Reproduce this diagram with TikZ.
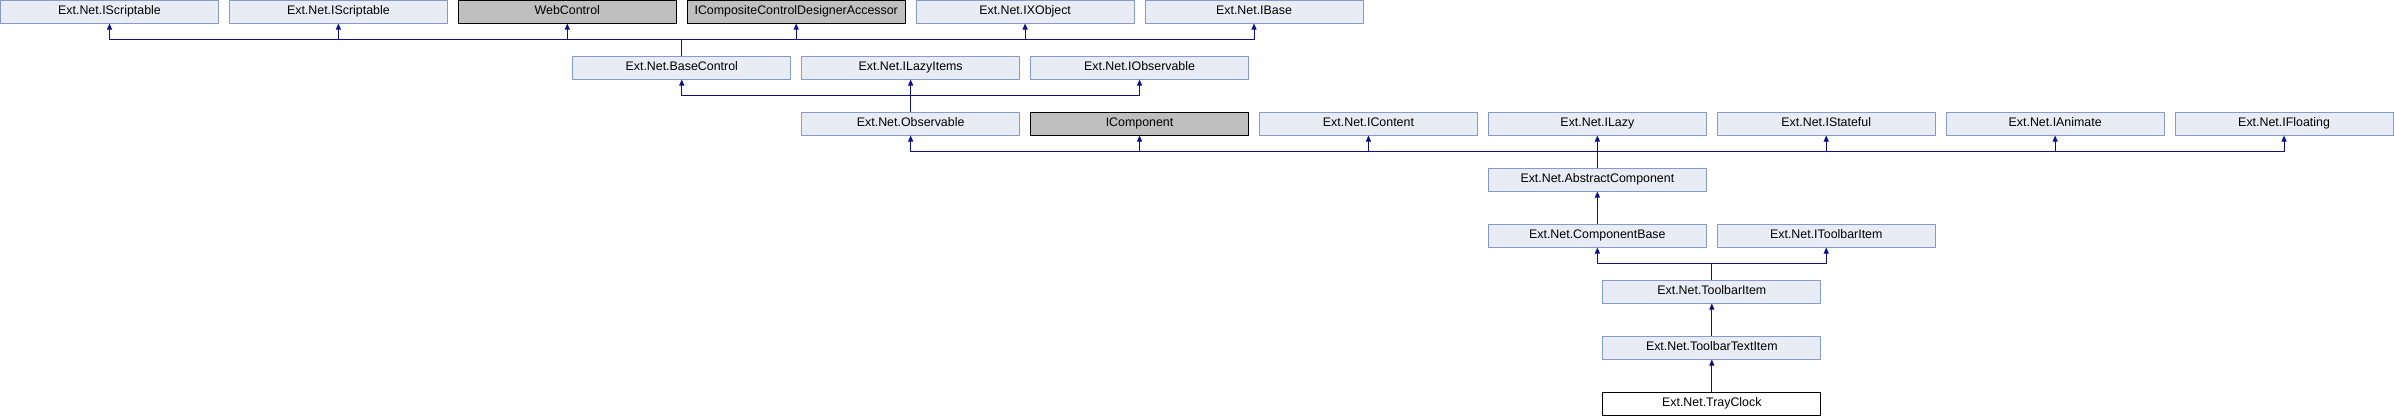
\documentclass[tikz,border=0pt]{standalone}
\usepackage{fontspec}
\setmainfont{Liberation Sans}
\usetikzlibrary{arrows.meta}
\usetikzlibrary{positioning}

\definecolor{boxfill}{RGB}{232,236,244}
\definecolor{boxline}{RGB}{132,155,204}
\definecolor{extfill}{RGB}{191,191,191}
\definecolor{edgeblue}{RGB}{16,16,140}

\tikzset{
  klass/.style={rectangle,draw=boxline,fill=boxfill,line width=1pt,minimum width=218pt,minimum height=23pt,inner sep=0pt,text height=9pt,text depth=2.6pt,font=\fontsize{12.4}{14}\selectfont},
  extklass/.style={klass,draw=black,fill=extfill},
  curklass/.style={klass,draw=black,fill=white},
  inherit/.style={draw=edgeblue,line width=1pt,-{Triangle[length=6pt,width=5pt]}}
}

\begin{document}
\begin{tikzpicture}[x=1pt,y=-1pt]
\useasboundingbox (0,0) rectangle (2394,416);

% row 0
\node[klass]    (scr1)   at (109.5,11.5)  {Ext.Net.IScriptable};
\node[klass]    (scr2)   at (338.4,11.5)  {Ext.Net.IScriptable};
\node[extklass] (webctl) at (567.3,11.5)  {WebControl};
\node[extklass] (icdda)  at (796.2,11.5)  {ICompositeControlDesignerAccessor};
\node[klass]    (ixobj)  at (1025.1,11.5) {Ext.Net.IXObject};
\node[klass]    (ibase)  at (1254.0,11.5) {Ext.Net.IBase};

% row 1
\node[klass] (basectl)    at (681.75,67.5) {Ext.Net.BaseControl};
\node[klass] (ilazyitems) at (910.65,67.5) {Ext.Net.ILazyItems};
\node[klass] (iobs)       at (1139.55,67.5) {Ext.Net.IObservable};

% row 2
\node[klass]    (observable) at (910.65,123.5)  {Ext.Net.Observable};
\node[extklass] (icomp)      at (1139.55,123.5) {IComponent};
\node[klass]    (icontent)   at (1368.45,123.5) {Ext.Net.IContent};
\node[klass]    (ilazy)      at (1597.35,123.5) {Ext.Net.ILazy};
\node[klass]    (istateful)  at (1826.25,123.5) {Ext.Net.IStateful};
\node[klass]    (ianimate)   at (2055.15,123.5) {Ext.Net.IAnimate};
\node[klass]    (ifloat)     at (2284.05,123.5) {Ext.Net.IFloating};

% rows 3 to 7
\node[klass] (abscomp)    at (1597.35,179.5) {Ext.Net.AbstractComponent};
\node[klass] (compbase)   at (1597.35,235.5) {Ext.Net.ComponentBase};
\node[klass] (itbitem)    at (1826.25,235.5) {Ext.Net.IToolbarItem};
\node[klass] (tbitem)     at (1711.8,291.5)  {Ext.Net.ToolbarItem};
\node[klass] (tbtextitem) at (1711.8,347.5)  {Ext.Net.ToolbarTextItem};
\node[curklass] (trayclock) at (1711.8,403.5) {Ext.Net.TrayClock};

% edges
\foreach \p in {scr1,scr2,webctl,icdda,ixobj,ibase}
  \draw[inherit] (basectl.north) -- ++(0,-16) -| (\p.south);
\foreach \p in {basectl,ilazyitems,iobs}
  \draw[inherit] (observable.north) -- ++(0,-16) -| (\p.south);
\foreach \p in {observable,icomp,icontent,ilazy,istateful,ianimate,ifloat}
  \draw[inherit] (abscomp.north) -- ++(0,-16) -| (\p.south);
\draw[inherit] (compbase.north) -- (abscomp.south);
\foreach \p in {compbase,itbitem}
  \draw[inherit] (tbitem.north) -- ++(0,-16) -| (\p.south);
\draw[inherit] (tbtextitem.north) -- (tbitem.south);
\draw[inherit] (trayclock.north) -- (tbtextitem.south);

\end{tikzpicture}
\end{document}
